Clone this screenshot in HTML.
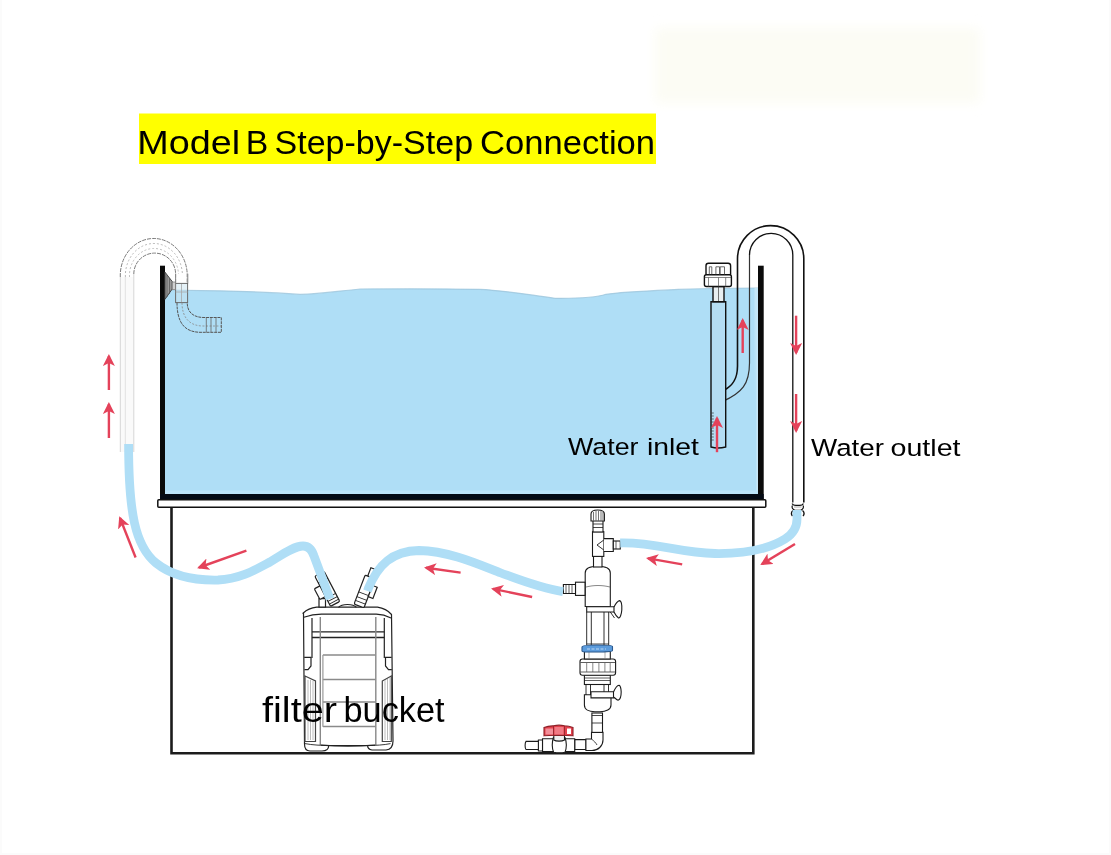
<!DOCTYPE html>
<html><head><meta charset="utf-8">
<style>
html,body{margin:0;padding:0;background:#fff;width:1111px;height:855px;overflow:hidden}
svg{display:block}
text{font-family:"Liberation Sans",sans-serif;fill:#000}
svg{will-change:transform}
</style></head>
<body>
<svg width="1111" height="855" viewBox="0 0 1111 855">
<defs>
  <marker id="ah" viewBox="0 0 12 12" refX="10" refY="6" markerWidth="12" markerHeight="12" markerUnits="userSpaceOnUse" orient="auto">
    <path d="M0,0 L12,6 L0,12 L3,6 Z" fill="#e4425a"/>
  </marker>
</defs>
<!-- faint ghost -->
<filter id="gb" x="-20%" y="-50%" width="140%" height="200%"><feGaussianBlur stdDeviation="6"/></filter>
<rect x="655" y="28" width="325" height="75" fill="#fcfcf4" filter="url(#gb)"/>
<rect x="0" y="0" width="2" height="855" fill="#fbfbfb"/>
<rect x="1109" y="0" width="2" height="855" fill="#fbfbfb"/>
<rect x="0" y="853" width="1111" height="2" fill="#fbfbfb"/>

<!-- title -->
<rect x="139" y="113.5" width="517" height="50.5" fill="#ffff00"/>
<g font-size="33.3">
<text x="137.3" y="154.3" textLength="102.9" lengthAdjust="spacingAndGlyphs">Model</text>
<text x="245.8" y="154.3" textLength="22.5" lengthAdjust="spacingAndGlyphs">B</text>
<text x="274.5" y="154.3" textLength="198.6" lengthAdjust="spacingAndGlyphs">Step-by-Step</text>
<text x="480" y="154.3" textLength="175.1" lengthAdjust="spacingAndGlyphs">Connection</text>
</g>

<!-- water -->
<path id="water" d="M165,290 L220,290.8 C250,291.5 280,293 300,294.4 C320,294 335,291.5 360,289 C400,288.7 450,288.8 480,289.3 C500,290 520,293.5 555,298.3 C575,298.5 595,298 606,294.3 C620,292 640,291.2 678,289.4 C710,288.5 740,288 758,288 V494 H165 Z" fill="#afdef6"/>
<path d="M165,290 L220,290.8 C250,291.5 280,293 300,294.4 C320,294 335,291.5 360,289 C400,288.7 450,288.8 480,289.3 C500,290 520,293.5 555,298.3 C575,298.5 595,298 606,294.3 C620,292 640,291.2 678,289.4 C710,288.5 740,288 758,288" fill="none" stroke="#9ec6dc" stroke-width="1.2" opacity="0.8"/>
<rect x="165" y="490.5" width="593" height="3.5" fill="#bde4f9"/>
<linearGradient id="rs" x1="0" y1="0" x2="0" y2="1"><stop offset="0" stop-color="#c6e7f8"/><stop offset="1" stop-color="#afdef6"/></linearGradient>
<rect x="754.5" y="288" width="3.5" height="120" fill="url(#rs)"/>
<rect x="756.3" y="288" width="1.7" height="203" fill="#c6e7f8"/>
<!-- tank walls -->
<rect x="160" y="265.7" width="5" height="234" fill="#0a0a0a"/>
<rect x="758" y="265.7" width="5.7" height="234" fill="#0a0a0a"/>
<rect x="160" y="494" width="603.7" height="6" fill="#050a14"/>
<!-- ledge -->
<rect x="157.8" y="499.8" width="608" height="7.4" fill="#fff" stroke="#111" stroke-width="1.5" rx="1"/>
<!-- cabinet -->
<path d="M171.5,507.5 V753.3 H753.3 V507.5" fill="none" stroke="#1c1c1c" stroke-width="2.6"/>


<!-- J tube left -->
<g fill="none" stroke-width="1">
  <rect x="120.3" y="277" width="13.5" height="175" fill="#fafafa" stroke="none"/>
  <path d="M120.3,452 V277 M133.8,452 V274" stroke="#d6d6d6"/>
  <path d="M125.3,452 V277" stroke="#e2e2e2"/>
  <path d="M120.3,277 A33.45,37 0 0 1 187.2,274 V284" stroke="#7a7a7a" stroke-dasharray="4 1"/>
  <path d="M133.8,274 A20.9,20.9 0 0 1 175.6,274 V284" stroke="#7a7a7a" stroke-dasharray="4 1"/>
  <path d="M125.4,277 A28.5,32 0 0 1 182.4,274" stroke="#b8b8b8" stroke-dasharray="2 2"/>
  <path d="M129.5,277 A24.5,27 0 0 1 178.5,274" stroke="#bdbdbd" stroke-dasharray="2 2"/>
  <path d="M175.6,273.7 V283.4 M187.8,273.7 V283.4" stroke="#8a8a8a"/>
  <rect x="175.6" y="283.4" width="12" height="19.2" fill="#c9e3f0" fill-opacity="0.5" stroke="#6a6a6a"/>
  <path d="M175.6,292 H187.6 M181.5,284 V302" stroke="#a8a8a8" stroke-width="0.8"/>
  <path d="M177,302.6 C177,322 184,332 200,332.3 H221.3 V317.5 H204 C193,317.5 187.2,312 187.2,302.6" stroke="#555" stroke-dasharray="3 0.8"/>
  <path d="M182,302.6 C182,318 190,326 203,326 H221" stroke="#8a8a8a" stroke-width="0.8" stroke-dasharray="2 1.5"/>
  <path d="M206.3,317.5 V332.5 M211,317.5 V332.5 M216,317.5 V332.5" stroke="#666" stroke-width="0.8"/>
  <path d="M165,272.2 L172.2,281.5 V289 L165,299.3 Z" fill="#9a9a9a" stroke="#444"/>
  <path d="M167,275 V297 M169.5,278 V294" stroke="#555" stroke-width="0.7"/>
  <rect x="172.2" y="282" width="3.4" height="7.5" fill="#d0d0d0" stroke="#666" stroke-width="0.6"/>
</g>

<!-- U tube right -->
<g fill="none" stroke="#111" stroke-width="1.6">
  <path d="M724.4,390 C732,386 737.5,380 737.5,366 V258.75 A33.15,33.15 0 0 1 803.8,258.75 V502.5"/>
  <path d="M722.7,401.4 C742,393 749.5,384 749.5,363 V255" stroke-width="1.2" stroke="#333"/><path d="M749.5,255 A21.65,21.65 0 0 1 792.8,255 V502.5" stroke-width="1.3"/>
  <path d="M792.3,503.5 C792.5,505 794,505.3 796,505.3 H799.5 C801.5,505.3 803,505 803.2,503.5" fill="none" stroke-width="1.3"/><path d="M792.5,505.5 C791.5,507 792.5,510 795,510.3 H800.5 C803,510 804,507 803,505.5" fill="none" stroke-width="1.2"/><path d="M794,507 H801.5" stroke="#999" stroke-width="0.8"/>
  <path d="M793,510.5 C791,512 791,514.5 792.5,516 M802.5,510.5 C804.5,512 804.5,514.5 803,516" stroke-width="1.4"/>
</g>
<!-- inlet strainer -->
<g stroke="#111" stroke-width="1.4">
  <path d="M711,447 V301.7 H725.7 V447 C720,448.5 716,448.5 711,447 Z" fill="#b4ddf3"/>
  <rect x="713" y="286.5" width="11" height="15.2" fill="#e8eef0"/>
  <path d="M718.5,287 V301" stroke="#555" stroke-width="0.8"/>
  <rect x="706" y="263.2" width="24.6" height="13" rx="2.5" fill="#fff"/>
  <rect x="704.4" y="274.7" width="27" height="11.8" rx="2" fill="#fff"/>
  <path d="M704.8,277.5 H731 M718.5,277.5 V286.5 M708.5,277.5 V286.5 M725.7,277.5 V286.5" stroke="#555" stroke-width="0.7" fill="none"/><path d="M709.3,274.5 V266.8 H711.8 V274.5 M715.9,274.5 V266.8 H719.5 V274.5 M720.2,274.5 V266.8 H724.5 V274.5" stroke="#444" stroke-width="0.8" fill="none"/>
  <path d="M711.3,413 h2.5 M711.3,416 h2.5 M711.3,419 h2.5 M711.3,422 h2.5 M711.3,425 h2.5 M711.3,428 h2.5 M711.3,431 h2.5 M711.3,434 h2.5 M711.3,437 h2.5 M711.3,440 h2.5" stroke="#333" stroke-width="0.7"/>
</g>


<!-- device / reactor -->
<g stroke="#1a1a1a" stroke-width="1.1" fill="#fff">
  <!-- elbow & valve -->
  <path d="M574.7,739.6 H586 V749.5 H574.7 Z"/>
  <path d="M585.9,739 H591.5 V732.4 H603 V740 C603,746 598,750.5 592,750.5 H585.9 Z"/>
  <path d="M591.5,739 C594,741 596,743 597,745" fill="none" stroke-width="0.8"/>
  <path d="M591.9,732.4 C595,731.5 600,731.5 603,732.4" fill="none" stroke-width="0.8"/>
  <path d="M542.5,738.8 H574.7 V751.6 H542.5 Z"/>
  <path d="M553.4,737.5 C552,742 552,748 553.6,752.3 C557,753 562,753 565,752.3 C566.6,748 566.6,742 565,737.5 Z"/>
  <path d="M538.4,740 C537.5,743 537.5,748 538.4,751 H542.5 V740 Z"/>
  <path d="M526,741.4 H538.4 V749.5 H526 C524.8,748 524.8,743 526,741.4 Z"/>
  <path d="M553.8,735.5 H564.5 V740 C562,741.5 556,741.5 553.8,740 Z" fill="#eee"/>
  <path d="M544,727.5 C549,726 552,726 553.5,725.8 C557,725 561,725 564.5,725.8 C567,726 570,726.5 573,727.5 V735.8 C567,735 549,735 544,735.8 Z" fill="#e3404c" stroke="#8d2128"/>
  <path d="M545.5,728.5 H553 V734.5 H545.5 Z" fill="#f2909a" stroke="none"/>
  <path d="M554.5,727 H563.5 V734.5 H554.5 Z" fill="#f07a84" stroke="none"/>
  <path d="M567,728.5 H571 V734 H567 Z" fill="#fff" stroke="none"/>
  <path d="M553.5,726 V735 M564.5,726 V735" stroke="#8d2128" stroke-width="0.8" fill="none"/>
  <!-- neck below cup -->
  <rect x="591.9" y="713" width="10.6" height="19.4"/>
  <path d="M591.9,715.5 H602.5 M591.9,723 H602.5" stroke-width="0.8"/>
  <!-- lower cup -->
  <path d="M584.4,694.8 H611 V705 C611,709.5 606,711.8 600,711.8 H595 C589,711.8 584.4,709.5 584.4,705 Z"/>
  <!-- lower posts -->
  <path d="M586,684 V695 M590.5,684 V695 M604,684 V695 M608.5,684 V695" fill="none" stroke-width="0.9"/>
  <!-- clamp 2 bar & knob -->
  <path d="M591,691.8 H614 V697.9 H591 Z"/>
  <path d="M613.5,692 C615,688.5 617,685.5 619,685.2 C621,685.5 621.5,692 621,695 C620.5,699 619,700.5 617.5,700 C616,699 614.5,697.5 613.5,697 Z"/>
  <!-- section below nut -->
  <rect x="584.4" y="675" width="25.9" height="9.5"/>
  <path d="M584.6,678 H610 M584.6,680.5 H610" stroke-width="0.7" fill="none"/>
  <!-- union nut -->
  <rect x="580" y="659" width="35.6" height="16.3" rx="2.5"/>
  <path d="M580.5,662.5 H615 M580.5,672 H615" stroke-width="0.7" fill="none"/>
  <path d="M586.7,663 V672 M592.8,663 V672 M598.9,663 V672 M604.9,663 V672 M610.2,663 V672" stroke-width="0.7" stroke="#555" fill="none"/>
  <rect x="584.4" y="651.5" width="25.9" height="7.5"/>
  <path d="M589,652 V658.5 M605,652 V658.5" stroke-width="0.6" stroke="#777" fill="none"/>
  <!-- transparent posts -->
  <path d="M586.7,612 V645.5 M591.3,612 V645.5 M604,612 V645.5 M608.7,612 V645.5" fill="none" stroke-width="0.9"/>
  <path d="M586.7,644 H608.7" fill="none" stroke-width="0.8"/>
  <!-- blue ring -->
  <path d="M582,647 C582,645.5 590,645 597,645 C605,645 612.5,645.5 612.5,646.5 V650.5 C612.5,651.5 605,652 597,652 C590,652 582,652.5 582,651 Z" fill="#5b9bdc" stroke="#2d5a8e"/>
  <path d="M587,649 H606" stroke="#d6e8fa" stroke-width="0.8" stroke-dasharray="3 1.5"/>
  <!-- main cylinder -->
  <path d="M585.2,606.5 V573 C585.2,568.5 589,566.3 597.75,566.3 C606.5,566.3 610.3,568.5 610.3,573 V606.5 Z"/>
  <path d="M586,587 C594,585 602,585 610,587" fill="none" stroke-width="0.7" stroke="#555"/>
  <!-- clamp 1 -->
  <path d="M586.7,606.7 H614.5 V612 H586.7 Z"/>
  <path d="M610.3,612 L614.5,618" fill="none" stroke-width="0.9"/>
  <path d="M614,607 C615.5,604 617.5,601 619.5,600.6 C621.5,601 622,606 621.8,610 C621.5,614 620,618.5 618.5,618 C617,617 615,614 614,612 Z"/>
  <!-- left barb -->
  <rect x="575.5" y="582.2" width="9.5" height="13.2"/>
  <path d="M563.4,584.5 H575.5 V593.5 H563.4 Z"/>
  <path d="M566,584.5 V593.5 M569,584.5 V593.5 M572,584.5 V593.5" stroke-width="0.7"/>
  <!-- short pipe -->
  <rect x="593.5" y="556" width="8.5" height="11"/>
  <!-- T body -->
  <rect x="592.5" y="531.7" width="11.3" height="24.7"/>
  <path d="M603.8,538.6 H613.3 V551.5 H603.8" />
  <path d="M603.8,540 L597,545 L603.8,550" fill="none" stroke-width="0.9"/>
  <rect x="613.3" y="541" width="7" height="8"/>
  <path d="M616,541 V549" stroke-width="0.7"/>
  <!-- neck & cap -->
  <rect x="593" y="520.5" width="10" height="11.5"/>
  <path d="M593,524 H603 M593,527.5 H603" stroke-width="0.8"/>
  <path d="M591,521 V514 C591,511 594,510 597.7,510 C601.4,510 604.4,511 604.4,514 V521 Z"/>
  <path d="M593.5,512 V520.5 M596,511 V520.5 M598.5,511 V520.5 M601,511 V520.5 M603,512 V520.5" stroke-width="0.6"/>
</g>

<!-- filter bucket -->
<g stroke="#222" stroke-width="1.2" fill="#fff">
  <path d="M303.3,613 C306,610.5 311,608 316.7,607.2 H377.5 C383,608 388,610.5 391.5,614.5 L393,741 C393,746 391,749.5 386,750 H372 C369,749.5 367.6,747.5 367.6,745.5 H328.7 C328.7,748.5 326.5,751 322,751 H310 C306,751 304.5,748 304.5,744 L303.5,613 Z"/>
  <path d="M338.5,607.3 C342,603.6 353,603.6 356.4,607.3" fill="none"/>
  <path d="M303.8,617.3 C309,615.5 315,614.2 321.5,614.2 H376.3 C382,614.4 387,616 391,618" fill="none"/>
  <path d="M312,618 V657.9 M384.3,618 V657.9" fill="none"/>
  <path d="M304.2,657.4 H311 V666 L308,669.7 H304.4 M391.6,657.4 H385.5 V666 L388.5,669.7 H391.8" fill="none"/>
  <path d="M312,631.9 H384.3 M312,637.5 H384.3" fill="none" stroke-width="1.3"/>
  <path d="M320.3,617 V745 M375.8,617 V745" fill="none" stroke="#888" stroke-width="1.4"/>
  <path d="M322.9,655 H375.3 M322.9,679.5 H375.3 M322.9,702 H375.3 M322.9,726.5 H375.3" fill="none" stroke="#8a8a8a" stroke-width="1.6"/>
  <path d="M322.9,655 V726.8" fill="none" stroke="#999"/>
  <path d="M305,676 L315.5,681 V741.5 H305 Z M382.3,681 L391.3,676 V741.5 H382.3 Z" fill="#fff" stroke="#444"/>
  <path d="M308,680 V740 M310.5,680 V740 M313,681 V740 M385,680 V740 M387.5,679 V740 M390,678 V740" fill="none" stroke="#aaa" stroke-width="0.8"/>
  <path d="M321,745.2 C340,746.5 356,746.5 375,745.2" fill="none"/>
  <path d="M305,743.6 C312,745 322,745.5 328.7,745.5 M367.6,745.5 C375,745.5 384,745 390.5,743.6" fill="none" stroke-width="0.9"/>
  <!-- connectors -->
  <rect x="319" y="598.6" width="6.5" height="8.5"/>
  <g transform="translate(327.3,588.8) rotate(-27.6)">
    <rect x="-5.25" y="-17" width="10.5" height="34" rx="1.5"/>
    <path d="M-5.25,-9.5 C-3,-8 3,-8 5.25,-9.5" fill="none" stroke-width="1"/>
    <rect x="-11.5" y="-6" width="6.25" height="12" rx="1"/>
    <path d="M-5.25,8 H5.25 M-5.25,11.5 H5.25 M-5.25,14.5 H5.25" fill="none" stroke-width="0.9"/>
  </g>
  <g transform="translate(365.8,588.2) rotate(21)">
    <rect x="-2.6" y="-21" width="5.2" height="9" fill="#fff"/>
    <rect x="-5.3" y="-12" width="10.6" height="31" rx="1.5"/>
    <rect x="5.3" y="-5" width="5" height="12"/>
    <path d="M-5.3,6 H5.3 M-5.3,11 H5.3 M-5.3,15 H5.3" fill="none" stroke-width="0.9"/>
  </g>
</g>

<!-- hoses -->
<g fill="none" stroke="#afdef6" stroke-width="8.8">
  <path id="h1" d="M128.6,444 C128.6,512 135,546 156,563 C172,576 195,580.5 218,580 C240,579 255,570 270,562 C283,554 294,546 303,546 C309,546 312,550 314,556 L330,599"/>
  <path id="h2" d="M367.5,591 L368.4,588.3 C378,565 392,551 419,550.5 C450,551 480,565 501,573 C520,580 540,588 563,591.6"/>
  <path id="h3" d="M620.2,543 C655,542 680,553 715,553.5 C750,554 772,547 785,539 C793,534 797,527 797,519 V510"/>
</g>

<!-- arrows -->
<g stroke="#e4425a" stroke-width="2.4" fill="none" marker-end="url(#ah)">
  <path d="M108.9,390 L108.9,356"/>
  <path d="M108.9,438 L108.9,404"/>
  <path d="M135.6,557.5 L120,518"/>
  <path d="M246.4,550.7 L199,567.5"/>
  <path d="M460.6,572.6 L426,567.8"/>
  <path d="M532.1,597 L493,588.8"/>
  <path d="M682.2,564.4 L648,558.4"/>
  <path d="M795,544 L762,564"/>
  <path d="M742.7,353 L742.7,320"/>
  <path d="M796.1,315.7 L796.1,353"/>
  <path d="M796.1,394 L796.1,431"/>
  <path d="M717,452.2 L717,418"/>
</g>

<!-- labels -->
<g font-size="24.5">
<text x="568" y="454.8" textLength="70.5" lengthAdjust="spacingAndGlyphs">Water</text>
<text x="647" y="454.8" textLength="52" lengthAdjust="spacingAndGlyphs">inlet</text>
<text x="811" y="455.8" textLength="73" lengthAdjust="spacingAndGlyphs">Water</text>
<text x="890.5" y="455.8" textLength="70" lengthAdjust="spacingAndGlyphs">outlet</text>
</g>
<g font-size="35">
<text x="262" y="722.4" textLength="75" lengthAdjust="spacingAndGlyphs">filter</text>
<text x="343.5" y="722.4" textLength="101.1" lengthAdjust="spacingAndGlyphs">bucket</text>
</g>
</svg>
</body></html>
